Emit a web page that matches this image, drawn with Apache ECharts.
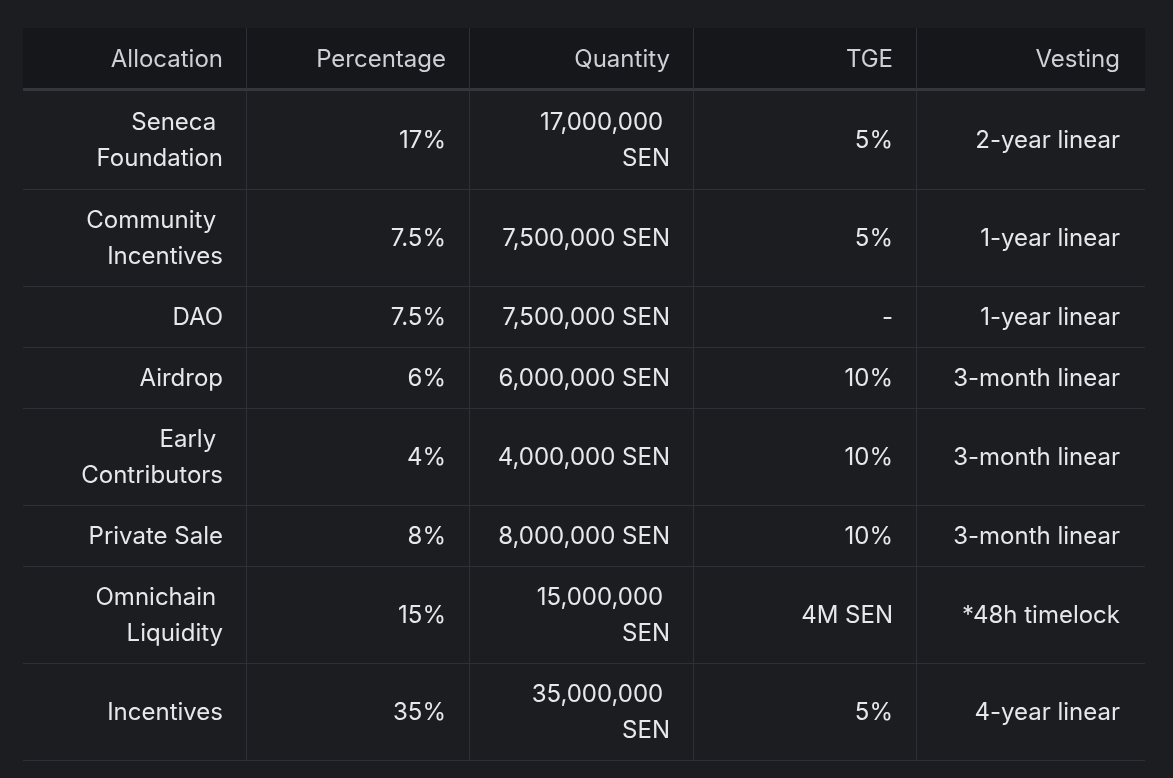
<!DOCTYPE html>
<html><head><meta charset="utf-8">
<script src="https://cdn.jsdelivr.net/npm/echarts@6/dist/echarts.min.js"></script>
<style>html,body{margin:0;padding:0;background:#1b1d21;}#c{width:1173px;height:778px;}</style>
</head><body><div id="c"></div>
<script>
// ---- data ----
const headers = ['Allocation', 'Percentage', 'Quantity', 'TGE', 'Vesting'];
const allocations = ['Seneca Foundation', 'Community Incentives', 'DAO', 'Airdrop', 'Early Contributors', 'Private Sale', 'Omnichain Liquidity', 'Incentives'];
const percentages = [17, 7.5, 7.5, 6, 4, 8, 15, 35];
const quantities = [17000000, 7500000, 7500000, 6000000, 4000000, 8000000, 15000000, 35000000];
const tge = ['5%', '5%', '-', '10%', '10%', '10%', '4M SEN', '5%'];
const vesting = ['2-year linear', '1-year linear', '1-year linear', '3-month linear', '3-month linear', '3-month linear', '*48h timelock', '4-year linear'];

// ---- layout / style ----
const FONT_SIZE = 24;
const FONT_FAMILY = 'Inter, "Noto Sans", sans-serif';
const LINE_H = 36;
const PAD_V = 25;
const HEADER_H = 63;
const CELL_PAD_R = 24;
const MAX_TEXT_W = 176;
const X_MAX = 5.02;

const ctx = document.createElement('canvas').getContext('2d');
ctx.font = FONT_SIZE + 'px ' + FONT_FAMILY;
function wrap(text) {
  const words = String(text).split(' ');
  const lines = [];
  let cur = '';
  words.forEach(w => {
    const cand = cur ? cur + ' ' + w : w;
    if (cur && ctx.measureText(cand).width > MAX_TEXT_W) {
      lines.push(cur + ' ');
      cur = w;
    } else cur = cand;
  });
  lines.push(cur);
  return lines;
}

const rows = [headers].concat(allocations.map((a, i) => [
  a,
  percentages[i] + '%',
  quantities[i].toLocaleString('en-US') + ' SEN',
  tge[i],
  vesting[i]
]));
const wrapped = rows.map(r => r.map(wrap));
const rowH = wrapped.map((r, i) => i === 0 ? HEADER_H : PAD_V + LINE_H * Math.max(...r.map(l => l.length)) + (i === 1 ? 2 : 0));
const rowTop = [];
let acc = 0;
rowH.forEach(h => { rowTop.push(acc); acc += h; });
const total = acc;

const data = [];
wrapped.forEach((r, ri) => r.forEach((lines, ci) => data.push({ value: [ci, ri], lines })));

const chart = echarts.init(document.getElementById('c'), null, { renderer: 'canvas' });
chart.setOption({
  backgroundColor: '#1b1d21',
  animation: false,
  grid: { left: 23, top: 28, width: 1122, height: total },
  xAxis: { type: 'value', min: 0, max: X_MAX, show: false },
  yAxis: { type: 'value', min: 0, max: total, inverse: true, show: false },
  series: [{
    type: 'custom',
    silent: true,
    data: data,
    renderItem: function (params, api) {
      const c = api.value(0), r = api.value(1);
      const last = c === headers.length - 1;
      const lines = data[params.dataIndex].lines;
      const x0 = Math.round(api.coord([c, 0])[0]);
      const x1 = Math.round(api.coord([last ? X_MAX : c + 1, 0])[0]);
      const y0 = Math.round(api.coord([0, rowTop[r]])[1]);
      const y1 = Math.round(api.coord([0, rowTop[r] + rowH[r]])[1]);
      const isHead = r === 0;
      const children = [];
      children.push({ type: 'rect', shape: { x: x0, y: y0, width: x1 - x0, height: y1 - y0 },
        style: { fill: isHead ? '#16171b' : '#1b1d21' } });
      if (isHead) {
        children.push({ type: 'rect', shape: { x: x0, y: y1 - 3, width: x1 - x0, height: 3 }, style: { fill: '#33363d' } });
      } else {
        children.push({ type: 'line', shape: { x1: x0, y1: y1 - 0.5, x2: x1, y2: y1 - 0.5 }, style: { stroke: '#2d3036', lineWidth: 1 } });
      }
      if (!last) {
        children.push({ type: 'line', shape: { x1: x1 - 0.5, y1: y0, x2: x1 - 0.5, y2: isHead ? y1 - 3 : y1 - 1 }, style: { stroke: '#2d3036', lineWidth: 1 } });
      }
      const cy = isHead ? (y0 + y1 - 3) / 2 + 1.5 : (y0 + y1 - 1) / 2 + 0.5;
      children.push({ type: 'text', style: {
        text: lines.join('\n'), x: x1 - CELL_PAD_R - (last ? 1 : 0), y: cy,
        align: 'right', verticalAlign: 'middle',
        fontSize: FONT_SIZE, fontFamily: FONT_FAMILY, lineHeight: LINE_H,
        fill: isHead ? '#cdd0d5' : '#e6e8eb'
      } });
      return { type: 'group', children };
    }
  }]
});
</script>
</body></html>
